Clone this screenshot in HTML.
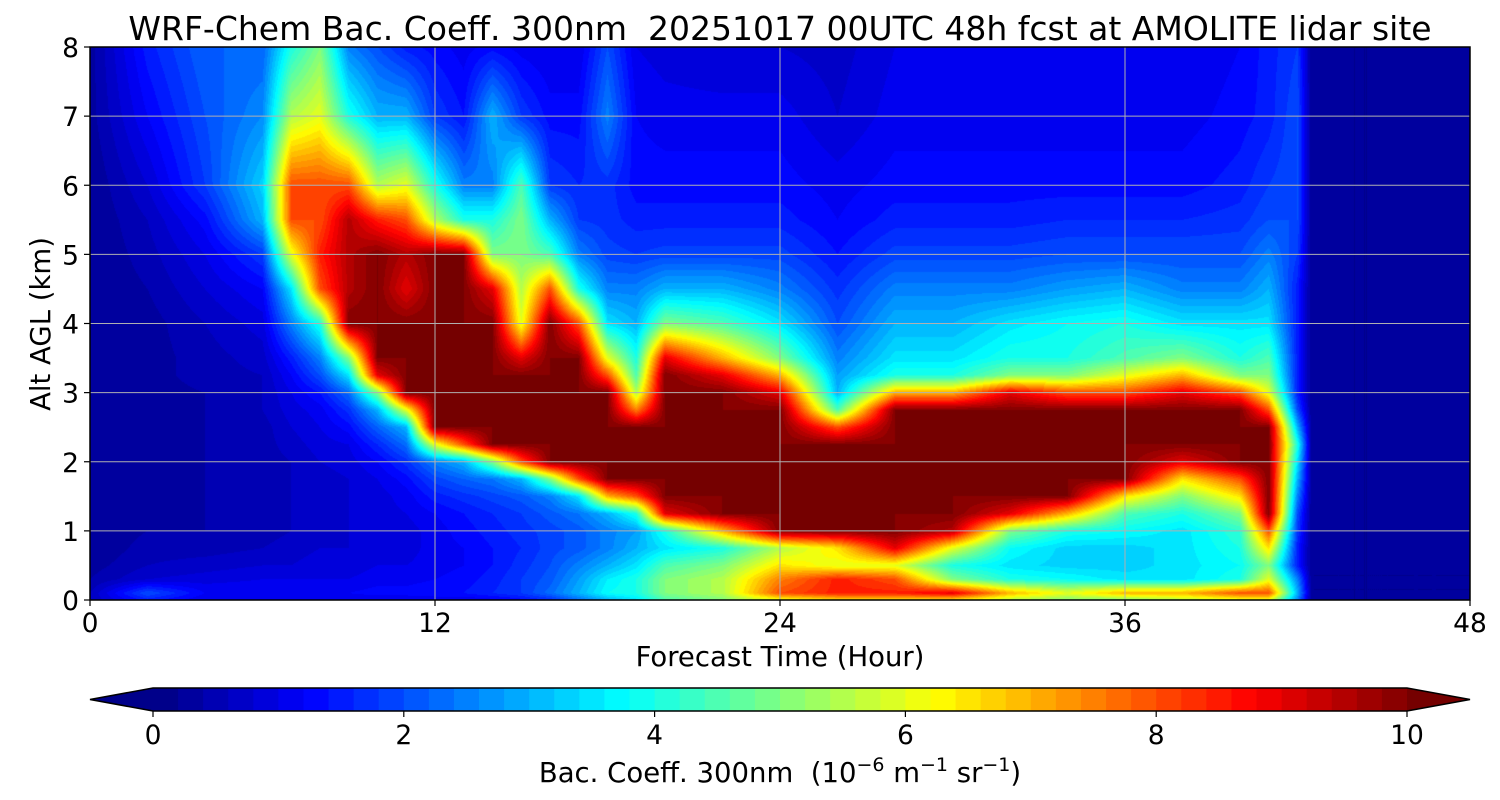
<!DOCTYPE html>
<html><head><meta charset="utf-8">
<style>
html,body{margin:0;padding:0;background:#fff;width:1500px;height:800px;overflow:hidden;font-family:"DejaVu Sans",sans-serif;}
#field{position:absolute;left:90px;top:47px;}
#ov{position:absolute;left:0;top:0;}
text{white-space:pre;}
</style></head><body>
<canvas id="field" width="1380" height="553"></canvas>
<svg id="ov" width="1500" height="800"></svg>
<script>
// ---- data ----
const times=[0,2,4,6,7,8,9,10,11,12,13,14,15,16,17,18,19,20,22,24,26,28,30,32,34,36,38,40,41,42,42.5,48];
const heights=[0,0.1,0.3,0.5,0.75,1,1.25,1.5,1.75,2,2.25,2.5,2.75,3,3.25,3.5,4,4.5,5,5.5,6,7,8];
const profiles=[
[0.6,0.6,0.4,0.3,0.2,0.2,0.2,0.2,0.2,0.2,0.2,0.2,0.2,0.2,0.2,0.2,0.2,0.2,0.2,0.2,0.2,0.3,0.3],
[1.5,2,0.8,0.6,0.5,0.4,0.3,0.3,0.3,0.3,0.3,0.3,0.3,0.3,0.3,0.3,0.3,0.4,0.5,0.6,0.8,1.2,1.5],
[1,1.2,0.9,0.7,0.5,0.4,0.4,0.4,0.4,0.4,0.4,0.4,0.4,0.4,0.5,0.5,0.6,0.8,1,1.3,1.8,2,2.2],
[1,1.2,1,0.8,0.6,0.5,0.5,0.5,0.5,0.5,0.5,0.5,0.6,0.6,0.6,0.7,0.9,1.2,1.8,3,3.3,2.6,2.2],
[1,1.2,1,0.8,0.7,0.6,0.6,0.6,0.6,0.6,0.7,0.8,0.9,1,1.2,1.5,2.5,3.5,6,8,8,5.5,4],
[1,1.2,1,0.9,0.8,0.7,0.7,0.7,0.7,0.8,0.9,1,1.1,1.4,2,2.5,4,8,8.5,8,8,6,5],
[1,1.2,1,0.9,0.8,0.8,0.8,0.8,0.8,0.9,1,1.3,1.7,2.3,3.5,5,10,9.5,9.5,9.5,8,4,2.5],
[1,1.3,1.1,1,0.9,0.9,0.9,0.9,1,1.2,1.6,2.2,3,5,9,10,10,10,10,8.5,5.5,3,2],
[1,1.3,1.1,1,0.9,0.9,1,1.1,1.3,1.7,2.3,3,6,10,10,10,10,9,9.5,8,6,3,1.5],
[1,1.4,1.2,1.1,1.1,1.1,1.2,1.5,1.9,2.5,6,10,10,10,10,10,10,10,10,5.5,4,1.8,1.3],
[1,1.4,1.3,1.2,1.2,1.3,1.4,1.7,2.2,3,8,10,10,10,10,10,10,10,10,4,2.5,1.4,1.1],
[1.1,1.6,1.5,1.4,1.4,1.5,1.6,1.9,2.4,5,10,10,10,10,10,10,10,9,5,4,2.5,3,1.3],
[1.3,1.8,1.8,1.7,1.6,1.7,1.8,2.1,3,8,10,10,10,10,10,9,6,5.5,5,5,4.5,1.8,1.1],
[1.6,2.3,2.1,2,1.9,1.9,2.1,2.5,5,10,10,10,10,10,10,10,10,8,4.5,3,1.8,1.3,1],
[2.3,3,2.8,2.5,2.1,2.1,2.4,3.5,8,10,10,10,10,10,10,10,8,4,2.5,1.8,1.6,1.3,1],
[3,3.8,3.6,3,2.5,2.5,3,7,10,10,10,10,10,10,8,6,3.5,2.5,1.9,1.7,1.7,2.5,2],
[3.5,4,4,3.5,3,2.8,4,8,10,10,10,10,7.5,5.5,4.5,4,3,2.5,1.8,1.5,1.3,1.2,1],
[4.5,5,5,4.5,3.5,4,9,10,10,10,10,10,10,10,10,9,5,3,1.9,1.5,1.3,1.1,0.9],
[5,5.5,5.5,5,4,7,10,10,10,10,10,10,10,10,9,7,4.5,3,1.9,1.5,1.3,1.1,0.8],
[6,8,7.5,6.5,5.5,10,10,10,10,10,10,10,10,9,7,5,3.5,2.5,1.9,1.5,1.3,1.1,0.8],
[6.5,8.5,8.5,6,6.5,10,10,10,10,10,10,8,4.5,3,2.8,2.5,2,1.7,1.4,1.2,1.1,0.8,0.7],
[6.5,8.5,8,6,9,10,10,10,10,10,10,10,10,7,4,3.5,3,2.5,1.9,1.5,1.3,1.1,1],
[6.5,9,5,4,6,9.5,10,10,10,10,10,10,10,7,4,3.5,3,2.5,1.9,1.5,1.3,1.1,1],
[5.5,7,4,3.5,3.8,5,9,10,10,10,10,10,10,9,5,4,3.5,2.5,1.9,1.5,1.3,1.1,1],
[5,6,3.8,3.3,3.3,4,7,10,10,10,10,10,10,8,5,4,3.8,2.8,2,1.6,1.3,1.1,1],
[5,7,3.5,3.3,3.3,3.8,4.5,6.5,10,10,10,10,10,8,6,4.5,4,3,2,1.6,1.3,1.1,1],
[5.5,7,3.5,3.5,3.5,3.5,4,5,6.5,9,10,10,10,9,7,5,3.5,2.5,2,1.6,1.3,1.1,1],
[6,8,4,3.8,4,4.2,5,6.5,8,10,10,10,10,8,5,4,3.5,2.5,2,1.7,1.5,1.3,1.2],
[6,8,6,5,6.5,8,10,10,10,10,10,10,8,6,5,4.5,3.5,3,2.5,2,1.8,1.5,1.5],
[2.5,3,2.5,1.5,1.5,1.8,2,2.5,3,3.5,4,3,2,1.5,1.5,1.5,1.5,1.5,1.8,2,2,2,1.8],
[0.2,0.2,0.2,0.2,0.2,0.2,0.2,0.2,0.2,0.2,0.2,0.2,0.2,0.2,0.2,0.2,0.2,0.2,0.2,0.2,0.2,0.2,0.2],
[0.2,0.2,0.2,0.2,0.2,0.2,0.2,0.2,0.2,0.2,0.2,0.2,0.2,0.2,0.2,0.2,0.2,0.2,0.2,0.2,0.2,0.2,0.2]
];
const xTicks=[0,12,24,36,48];
const yTicks=[0,1,2,3,4,5,6,7,8];
const cbTicks=[0,2,4,6,8,10];

// ---- geometry ----
const X0=90,X1=1470,Y0=600,Y1=47;
const FONT='DejaVu Sans, sans-serif';
const xs=t=>X0+(t/48)*(X1-X0);
const ys=h=>Y0-(h/8)*(Y0-Y1);
function jet(v){
  let x=Math.max(0,Math.min(1,v/10));
  x=Math.floor(x*50)/50+0.01;
  const c=a=>Math.round(255*Math.max(0,Math.min(1,a)));
  return [c(1.5-Math.abs(4*x-3)),c(1.5-Math.abs(4*x-2)),c(1.5-Math.abs(4*x-1))];
}
function seg(arr,v){
  let i=0;while(i<arr.length-2&&v>arr[i+1])i++;
  const f=Math.max(0,Math.min(1,(v-arr[i])/(arr[i+1]-arr[i])));return [i,f];
}
const cv=document.getElementById('field'),ctx=cv.getContext('2d');
const W=cv.width,H=cv.height,img=ctx.createImageData(W,H);
const hIdx=[];for(let py=0;py<H;py++){hIdx.push(seg(heights,8*(H-0.5-py)/H));}
for(let px=0;px<W;px++){
  const [ti,tf]=seg(times,48*(px+0.5)/W);
  const A=profiles[ti],B=profiles[ti+1];
  for(let py=0;py<H;py++){
    const [hi,hf]=hIdx[py];
    const a=A[hi]*(1-hf)+A[hi+1]*hf,b=B[hi]*(1-hf)+B[hi+1]*hf;
    const [r,g,bl]=jet(a*(1-tf)+b*tf);
    const k=(py*W+px)*4;img.data[k]=r;img.data[k+1]=g;img.data[k+2]=bl;img.data[k+3]=255;
  }
}
ctx.putImageData(img,0,0);

const svg=document.getElementById('ov'),NS='http://www.w3.org/2000/svg';
function el(tag,attrs,parent){const e=document.createElementNS(NS,tag);for(const k in attrs)e.setAttribute(k,attrs[k]);(parent||svg).appendChild(e);return e;}
function txt(s,attrs){const e=el('text',Object.assign({'font-family':FONT,'fill':'#000'},attrs));e.textContent=s;return e;}
xTicks.forEach(t=>{
  if(t>0&&t<48){const g=el('line',{x1:xs(t),x2:xs(t),y1:Y1,y2:Y0,stroke:'#b0b0b0','stroke-width':1});
  
  }
  const tk=el('line',{x1:xs(t),x2:xs(t),y1:Y0,y2:Y0+6,stroke:'#000','stroke-width':1.2});
  
  
  const l=txt(String(t),{x:xs(t),y:632,'font-size':26.5,'text-anchor':'middle'});
  
  
});
yTicks.forEach(h=>{
  if(h>0&&h<8){const g=el('line',{x1:X0,x2:X1,y1:ys(h),y2:ys(h),stroke:'#b0b0b0','stroke-width':1});
  
  }
  const tk=el('line',{x1:X0-6,x2:X0,y1:ys(h),y2:ys(h),stroke:'#000','stroke-width':1.2});
  
  
  const l=txt(String(h),{x:X0-11,y:ys(h)+10,'font-size':26.5,'text-anchor':'end'});
  
  
});
const fr=el('rect',{x:X0,y:Y1,width:X1-X0,height:Y0-Y1,fill:'none',stroke:'#000','stroke-width':1.5});


const ti=txt('WRF-Chem Bac. Coeff. 300nm  20251017 00UTC 48h fcst at AMOLITE lidar site',{x:780,y:40,'font-size':33,'text-anchor':'middle'});


const xl=txt('Forecast Time (Hour)',{x:780,y:666,'font-size':27.5,'text-anchor':'middle'});


const yl=txt('Alt AGL (km)',{x:0,y:0,'font-size':27.5,'text-anchor':'middle',transform:'translate(50,324) rotate(-90)'});



const CB0=153,CB1=1407,CBT=688,CBB=711;
const cbx=v=>CB0+(v/10)*(CB1-CB0);
const cbg=el('g',{});


for(let i=0;i<50;i++){
  const [r,g,b]=jet(i/5+0.01);
  el('rect',{x:cbx(i/5),y:CBT,width:(CB1-CB0)/50+0.6,height:CBB-CBT,fill:`rgb(${r},${g},${b})`},cbg);
}
const [lr,lg,lb]=jet(0),[rr,rg,rb]=jet(10);
el('polygon',{points:`${CB0},${CBT} 90,${(CBT+CBB)/2} ${CB0},${CBB}`,fill:`rgb(${lr},${lg},${lb})`},cbg);
el('polygon',{points:`${CB1},${CBT} 1470,${(CBT+CBB)/2} ${CB1},${CBB}`,fill:`rgb(${rr},${rg},${rb})`},cbg);
el('polygon',{points:`${CB0},${CBT} ${CB1},${CBT} 1470,${(CBT+CBB)/2} ${CB1},${CBB} ${CB0},${CBB} 90,${(CBT+CBB)/2}`,fill:'none',stroke:'#000','stroke-width':1.5},cbg);
cbTicks.forEach(v=>{
  const tk=el('line',{x1:cbx(v),x2:cbx(v),y1:CBB,y2:CBB+6,stroke:'#000','stroke-width':1.2});
  
  
  const l=txt(String(v),{x:cbx(v),y:744,'font-size':26.5,'text-anchor':'middle'});
  
  
});
const cl=el('text',{x:780,y:782,'font-size':27.5,'text-anchor':'middle','font-family':FONT});


cl.innerHTML='Bac. Coeff. 300nm  (10<tspan font-size="19" dy="-11">−6</tspan><tspan dy="11"> m</tspan><tspan font-size="19" dy="-11">−1</tspan><tspan dy="11"> sr</tspan><tspan font-size="19" dy="-11">−1</tspan><tspan dy="11">)</tspan>';
</script>
</body></html>
